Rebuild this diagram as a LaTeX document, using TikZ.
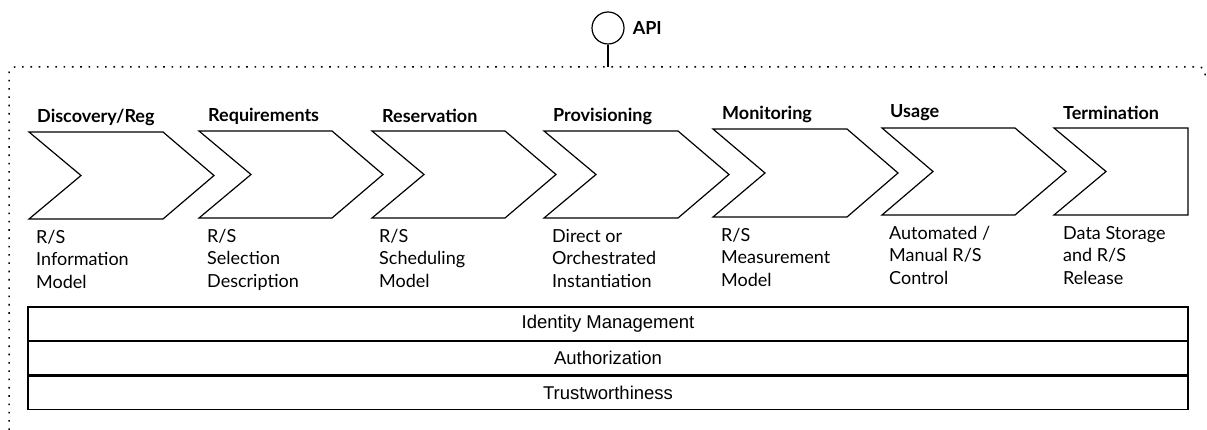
\documentclass[tikz,border=0pt]{standalone}
\usepackage{fontspec}
\setmainfont{Lato}
\newfontfamily\barfont{Liberation Sans}
\usetikzlibrary{positioning}

\tikzset{
  stage/.style={line width=1.2pt, line join=miter},
  stagetitle/.style={anchor=west, inner sep=0pt, font=\fontsize{18}{21}\selectfont\bfseries},
  stagenote/.style={anchor=north west, inner sep=0pt, align=left, font=\fontsize{18}{22.5}\selectfont},
  secbar/.style={draw, line width=1.2pt, minimum width=1160pt, minimum height=33.3pt, inner sep=0pt, font=\barfont\fontsize{18.5}{21}\selectfont},
  apiframe/.style={line width=1.5pt, dash pattern=on 1.6pt off 6.7pt, rounded corners=6pt}
}

\begin{document}
\begin{tikzpicture}[x=1pt,y=-1pt]
				\useasboundingbox (0,0) rectangle (1207,430);

				% api and the dotted frame
				\node[circle, draw, line width=1.2pt, minimum size=32pt, inner sep=0pt] (api) at (608,28) {};
				\node[right=8pt of api, inner sep=0pt, font=\fontsize{18}{21}\selectfont\bfseries] (apilabel) {API};
				\coordinate (apifoot) at (608,67);
				\draw[line width=1.2pt] (api) -- (apifoot);
				\draw[apiframe] (9,430) -- (9,67) -- (1205,67) -- (1205,80);

				% the seven stages
				\draw[stage] (29,132) -- ++(134,0) -- ++(51,43.5) -- ++(-51,43.5)
					-- ++(-134,0) -- ++(52,-43.5) -- cycle;
				\draw[stage] (199,131) -- ++(133,0) -- ++(51,43.5) -- ++(-51,43.5)
					-- ++(-133,0) -- ++(52,-43.5) -- cycle;
				\draw[stage] (372,131) -- ++(133,0) -- ++(51,43.5) -- ++(-51,43.5)
					-- ++(-133,0) -- ++(52,-43.5) -- cycle;
				\draw[stage] (544,131) -- ++(134,0) -- ++(51,43.5) -- ++(-51,43.5)
					-- ++(-134,0) -- ++(52,-43.5) -- cycle;
				\draw[stage] (713,129) -- ++(134,0) -- ++(51,44) -- ++(-51,44)
					-- ++(-134,0) -- ++(52,-44) -- cycle;
				\draw[stage] (882,128) -- ++(133,0) -- ++(51,43.5) -- ++(-51,43.5)
					-- ++(-133,0) -- ++(51,-43.5) -- cycle;
				\draw[stage] (1054,128) -- ++(134,0) -- ++(0,87)
					-- ++(-134,0) -- ++(52,-43.5) -- cycle;

				\node[stagetitle] (discovery) at (37,117) {Discovery/Reg};
				\node[stagetitle] (requirements) at (208,116) {Requirements};
				\node[stagetitle] (reservation) at (382,116) {Reservation};
				\node[stagetitle] (provisioning) at (553,116) {Provisioning};
				\node[stagetitle] (monitoring) at (722,114) {Monitoring};
				\node[stagetitle] (usage) at (890,113) {Usage};
				\node[stagetitle] (termination) at (1063,113) {Termination};

				\node[stagenote] (discoverynote) at (36,230) {R/S\\Information\\Model};
				\node[stagenote] (requirementsnote) at (207,229) {R/S\\Selection\\Description};
				\node[stagenote] (reservationnote) at (379,229) {R/S\\Scheduling\\Model};
				\node[stagenote] (provisioningnote) at (552,229) {Direct or\\Orchestrated\\Instantiation};
				\node[stagenote] (monitoringnote) at (721,228) {R/S\\Measurement\\Model};
				\node[stagenote] (usagenote) at (889,226) {Automated /\\Manual R/S\\Control};
				\node[stagenote] (terminationnote) at (1063,226) {Data Storage\\and R/S\\Release};

				% cross-cutting layers
				\node[secbar] (identity) at (608,323.7) {Identity Management};
				\node[secbar, below=0pt of identity] (authorization) {Authorization};
				\node[secbar, below=0pt of authorization] (trust) {Trustworthiness};

			\end{tikzpicture}
\end{document}
